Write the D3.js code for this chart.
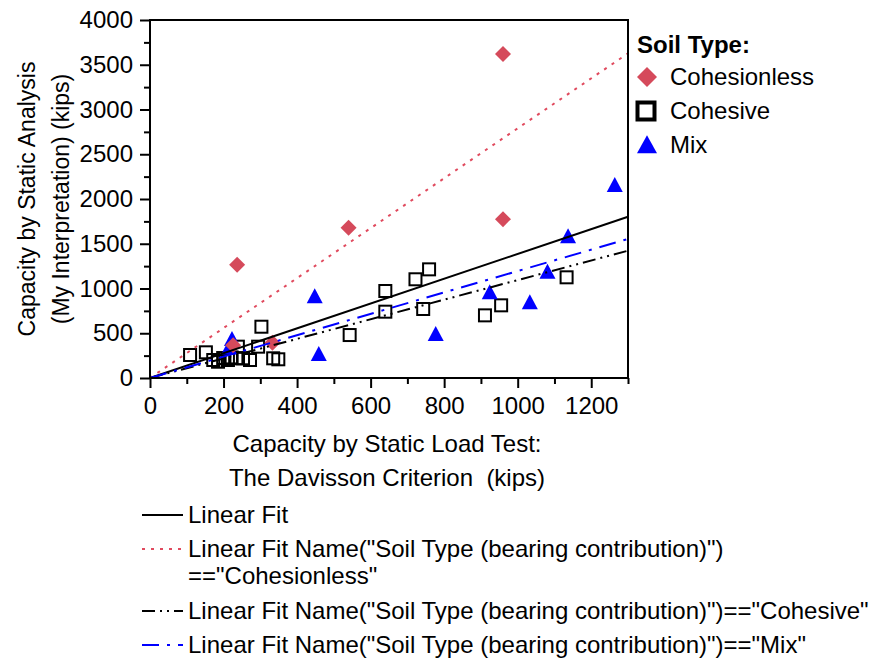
<!DOCTYPE html>
<html><head><meta charset="utf-8">
<script src="https://cdn.jsdelivr.net/npm/d3@7"></script>
<style>
html,body{margin:0;padding:0;background:#fff;}
svg text{font-family:"Liberation Sans",Arial,sans-serif;fill:#000;}
</style></head>
<body><svg id="c" width="870" height="661"></svg>
<script>
// ---- data ----
const cohesionless = [[960,3620],[237,1265],[540,1680],[960,1775],[226,365],[333,394]];
const cohesive = [[109,257],[152,287],[172,201],[185,182],[199,223],[212,201],[222,230],[235,220],[239,350],[253,220],[272,201],[294,350],[303,573],[335,220],[349,209],[543,480],[640,972],[640,741],[722,1103],[743,771],[759,1214],[911,700],[955,812],[1133,1125]];
const mix = [[223,425],[215,330],[448,901],[459,257],[777,480],[924,946],[1033,834],[1081,1177],[1137,1572],[1264,2145]];
const fitNames = ["all","cohesionless","cohesive","mix"];
const fitSlopes = [1.386, 2.79, 1.094, 1.195];
const xTicks = [0,200,400,600,800,1000,1200];
const xMinor = [100,300,500,700,900,1100,1300];
const yTicks = [0,500,1000,1500,2000,2500,3000,3500,4000];
const yMinor = [250,750,1250,1750,2250,2750,3250,3750];
const legendTypes = ["Cohesionless","Cohesive","Mix"];
const fitLegend = ["Linear Fit",
  'Linear Fit Name("Soil Type (bearing contribution)")\n=="Cohesionless"',
  'Linear Fit Name("Soil Type (bearing contribution)")=="Cohesive"',
  'Linear Fit Name("Soil Type (bearing contribution)")=="Mix"'];

// ---- styles ----
const RED = "#d54a5b", BLUE = "#0000ff";
const lineStyles = [
  {stroke:"#000", dash:null},
  {stroke:"#e04a5e", dash:"3,6"},
  {stroke:"#000", dash:"13,5,2,5,2,5"},
  {stroke:BLUE, dash:"17,8,3,8"}
];
const FS = 24;

const svg = d3.select("#c");
const L=150, R=628, T=20, B=378;
const x = d3.scaleLinear().domain([0,1300]).range([L,R]);
const y = d3.scaleLinear().domain([0,4000]).range([B,T]);

// axes
const gx = svg.append("g").attr("transform",`translate(0,${B})`)
  .call(d3.axisBottom(x).tickValues(xTicks).tickSize(10).tickPadding(9).tickFormat(d3.format("d")));
const gxm = svg.append("g").attr("transform",`translate(0,${B})`)
  .call(d3.axisBottom(x).tickValues(xMinor).tickSize(6).tickFormat(""));
const gy = svg.append("g").attr("transform",`translate(${L},0)`)
  .call(d3.axisLeft(y).tickValues(yTicks).tickSize(10).tickPadding(7).tickFormat(d3.format("d")));
const gym = svg.append("g").attr("transform",`translate(${L},0)`)
  .call(d3.axisLeft(y).tickValues(yMinor).tickSize(6).tickFormat(""));
[gx,gxm,gy,gym].forEach(g=>{
  g.select(".domain").remove();
  g.selectAll("line").attr("stroke","#000").attr("stroke-width",2);
  g.selectAll("text").attr("font-size",FS).attr("font-family","Liberation Sans, Arial, sans-serif");
});

// markers
const plot = svg.append("g");
const diamond = s => `M0,${-s}L${s},0L0,${s}L${-s},0Z`;
const tri = (w,h) => `M0,${-h*0.6}L${w/2},${h*0.4}L${-w/2},${h*0.4}Z`;

plot.selectAll(".sq").data(cohesive).join("rect")
  .attr("x",d=>x(d[0])-6).attr("y",d=>y(d[1])-6).attr("width",12).attr("height",12)
  .attr("fill","none").attr("stroke","#000").attr("stroke-width",2);
plot.selectAll(".tr").data(mix).join("path")
  .attr("transform",d=>`translate(${x(d[0])},${y(d[1])})`)
  .attr("d",tri(16,15)).attr("fill",BLUE);
plot.selectAll(".dm").data(cohesionless).join("path")
  .attr("transform",d=>`translate(${x(d[0])},${y(d[1])})`)
  .attr("d",diamond(8)).attr("fill",RED);

// fit lines
fitSlopes.forEach((s,i)=>{
  const st = lineStyles[i];
  const xEnd = Math.min(1300, 4000/s);
  svg.append("line").attr("x1",x(0)).attr("y1",y(0)).attr("x2",x(xEnd)).attr("y2",y(s*xEnd))
    .attr("stroke",st.stroke).attr("stroke-width",2)
    .attr("stroke-dasharray",st.dash);
});

// frame
svg.append("rect").attr("x",L).attr("y",T).attr("width",R-L).attr("height",B-T)
  .attr("fill","none").attr("stroke","#000").attr("stroke-width",2);

// axis titles
svg.append("text").attr("x",(L+R)/2 - 2).attr("y",452).attr("text-anchor","middle").attr("font-size",FS)
  .text("Capacity by Static Load Test:");
svg.append("text").attr("x",(L+R)/2 - 2).attr("y",486).attr("text-anchor","middle").attr("font-size",FS)
  .attr("xml:space","preserve").style("white-space","pre")
  .text("The Davisson Criterion  (kips)");
const yt = svg.append("g").attr("transform",`translate(0,${(T+B)/2}) rotate(-90)`);
yt.append("text").attr("x",0).attr("y",35).attr("text-anchor","middle").attr("font-size",23)
  .text("Capacity by Static Analysis");
yt.append("text").attr("x",0).attr("y",69).attr("text-anchor","middle").attr("font-size",23)
  .text("(My Interpretation) (kips)");

// right legend
svg.append("text").attr("x",637).attr("y",53).attr("font-size",FS).attr("font-weight","bold").text("Soil Type:");
const ly = [77,111,145];
svg.append("path").attr("transform",`translate(647,${ly[0]})`).attr("d",diamond(10)).attr("fill",RED);
svg.append("rect").attr("x",637.5).attr("y",ly[1]-8.5).attr("width",17).attr("height",17)
  .attr("fill","none").attr("stroke","#000").attr("stroke-width",4);
svg.append("path").attr("transform",`translate(647,${ly[2]+1})`).attr("d",tri(20,18)).attr("fill",BLUE);
legendTypes.forEach((t,i)=>{
  svg.append("text").attr("x",670).attr("y",ly[i]).attr("dy","0.35em").attr("font-size",FS).text(t);
});

// bottom legend
const by = [515,549,611,645];
fitLegend.forEach((t,i)=>{
  const st = lineStyles[i];
  svg.append("line").attr("x1",142).attr("x2",183).attr("y1",by[i]).attr("y2",by[i])
    .attr("stroke",st.stroke).attr("stroke-width",2).attr("stroke-dasharray",st.dash);
  t.split("\n").forEach((ln,j)=>{
    svg.append("text").attr("x",188).attr("y",by[i]+j*27).attr("dy","0.35em").attr("font-size",FS).text(ln);
  });
});
</script></body></html>
